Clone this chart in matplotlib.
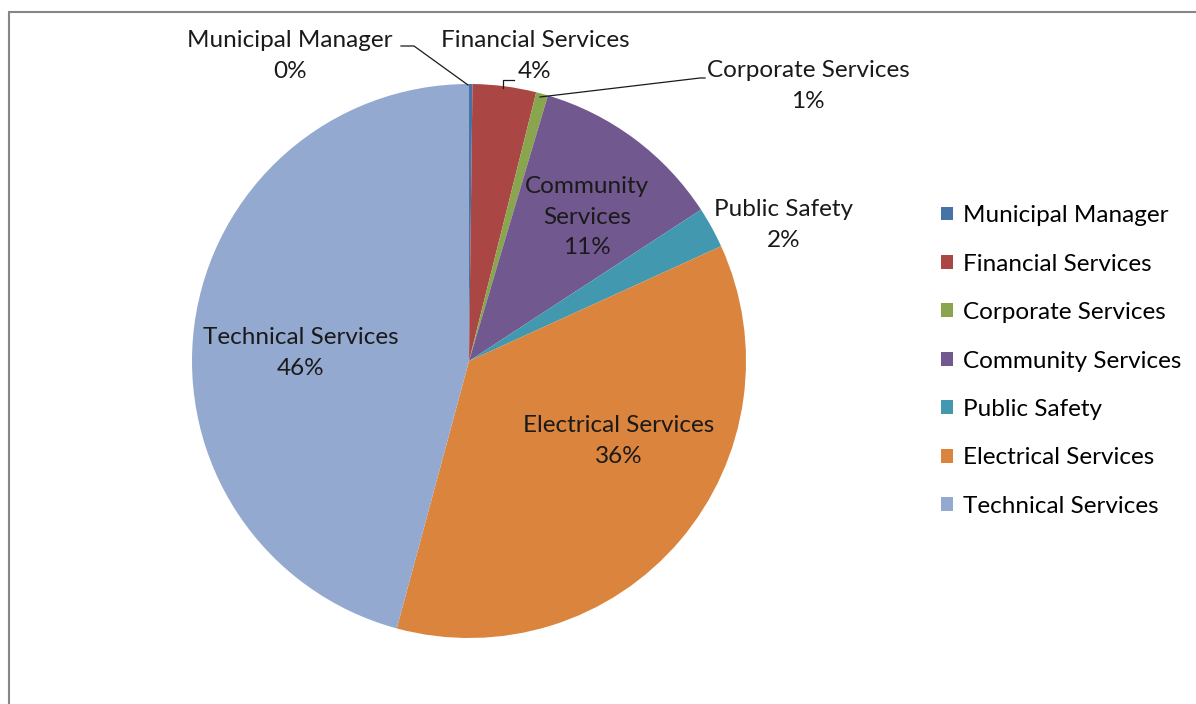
import matplotlib
matplotlib.use("Agg")
import matplotlib.pyplot as plt
from matplotlib.patches import Patch, Rectangle

# Departments and their share of the budget (%)
depts = ["Municipal Manager", "Financial Services", "Corporate Services",
         "Community Services", "Public Safety", "Electrical Services",
         "Technical Services"]
shares = [0.2, 3.7, 0.7, 11.2, 2.4, 36.0, 45.8]
colors = ["#4572A7", "#AA4643", "#89A54E", "#71588F", "#4198AF", "#DB843D", "#93A9CF"]

W, H = 1196, 704
plt.rcParams['font.family'] = ['Lato', 'DejaVu Sans']
fs = 17.5

fig = plt.figure(figsize=(W / 100, H / 100), dpi=100)
ax = fig.add_axes([0, 0, 1, 1])

# outer chart frame (only left and top edges fall inside the image)
fig.patches.append(Rectangle((9 / W, -0.1), 1.2, (H - 12) / H + 0.1, transform=fig.transFigure,
                             fill=False, edgecolor="#868686", linewidth=1.5))

cx, cy, r = 469, H - 361, 277
wedges, _ = ax.pie(shares, colors=colors, startangle=90, counterclock=False,
                   center=(cx, cy), radius=r, frame=True,
                   wedgeprops=dict(linewidth=0))
ax.set_xlim(0, W)
ax.set_ylim(0, H)
ax.set_aspect('equal')
ax.axis('off')

# data labels: name + rounded percentage
lab_pos = [(290, 56), (535, 56), (808, 86), (587, 217), (784, 225), (619, 441), (301, 353)]
lab_txt = [f"{d}\n{round(s)}%" for d, s in zip(depts, shares)]
lab_txt[3] = f"Community\nServices\n{round(shares[3])}%"
for (x, y), t in zip(lab_pos, lab_txt):
    ax.text(x, H - y, t, ha='center', va='center', fontsize=fs, color='#1a1a1a',
            linespacing=1.55)

# leader lines for the small slices
lc = dict(color='#1a1a1a', linewidth=0.9)
ax.plot([401, 414, 468], [H - 46, H - 46, H - 85], **lc)
ax.plot([514, 503, 503], [H - 80, H - 80, H - 88], **lc)
ax.plot([540, 700, 705], [H - 97, H - 78, H - 78], **lc)

handles = [Patch(facecolor=c, edgecolor='none', label=d) for c, d in zip(colors, depts)]
fig.legend(handles=handles, loc='center left', bbox_to_anchor=(941 / W, 1 - 361 / H),
           frameon=False, fontsize=fs, handlelength=0.5, handleheight=0.5,
           handletextpad=0.4, labelspacing=1.13, borderaxespad=0, borderpad=0)

fig.savefig("out.png", dpi=100)
